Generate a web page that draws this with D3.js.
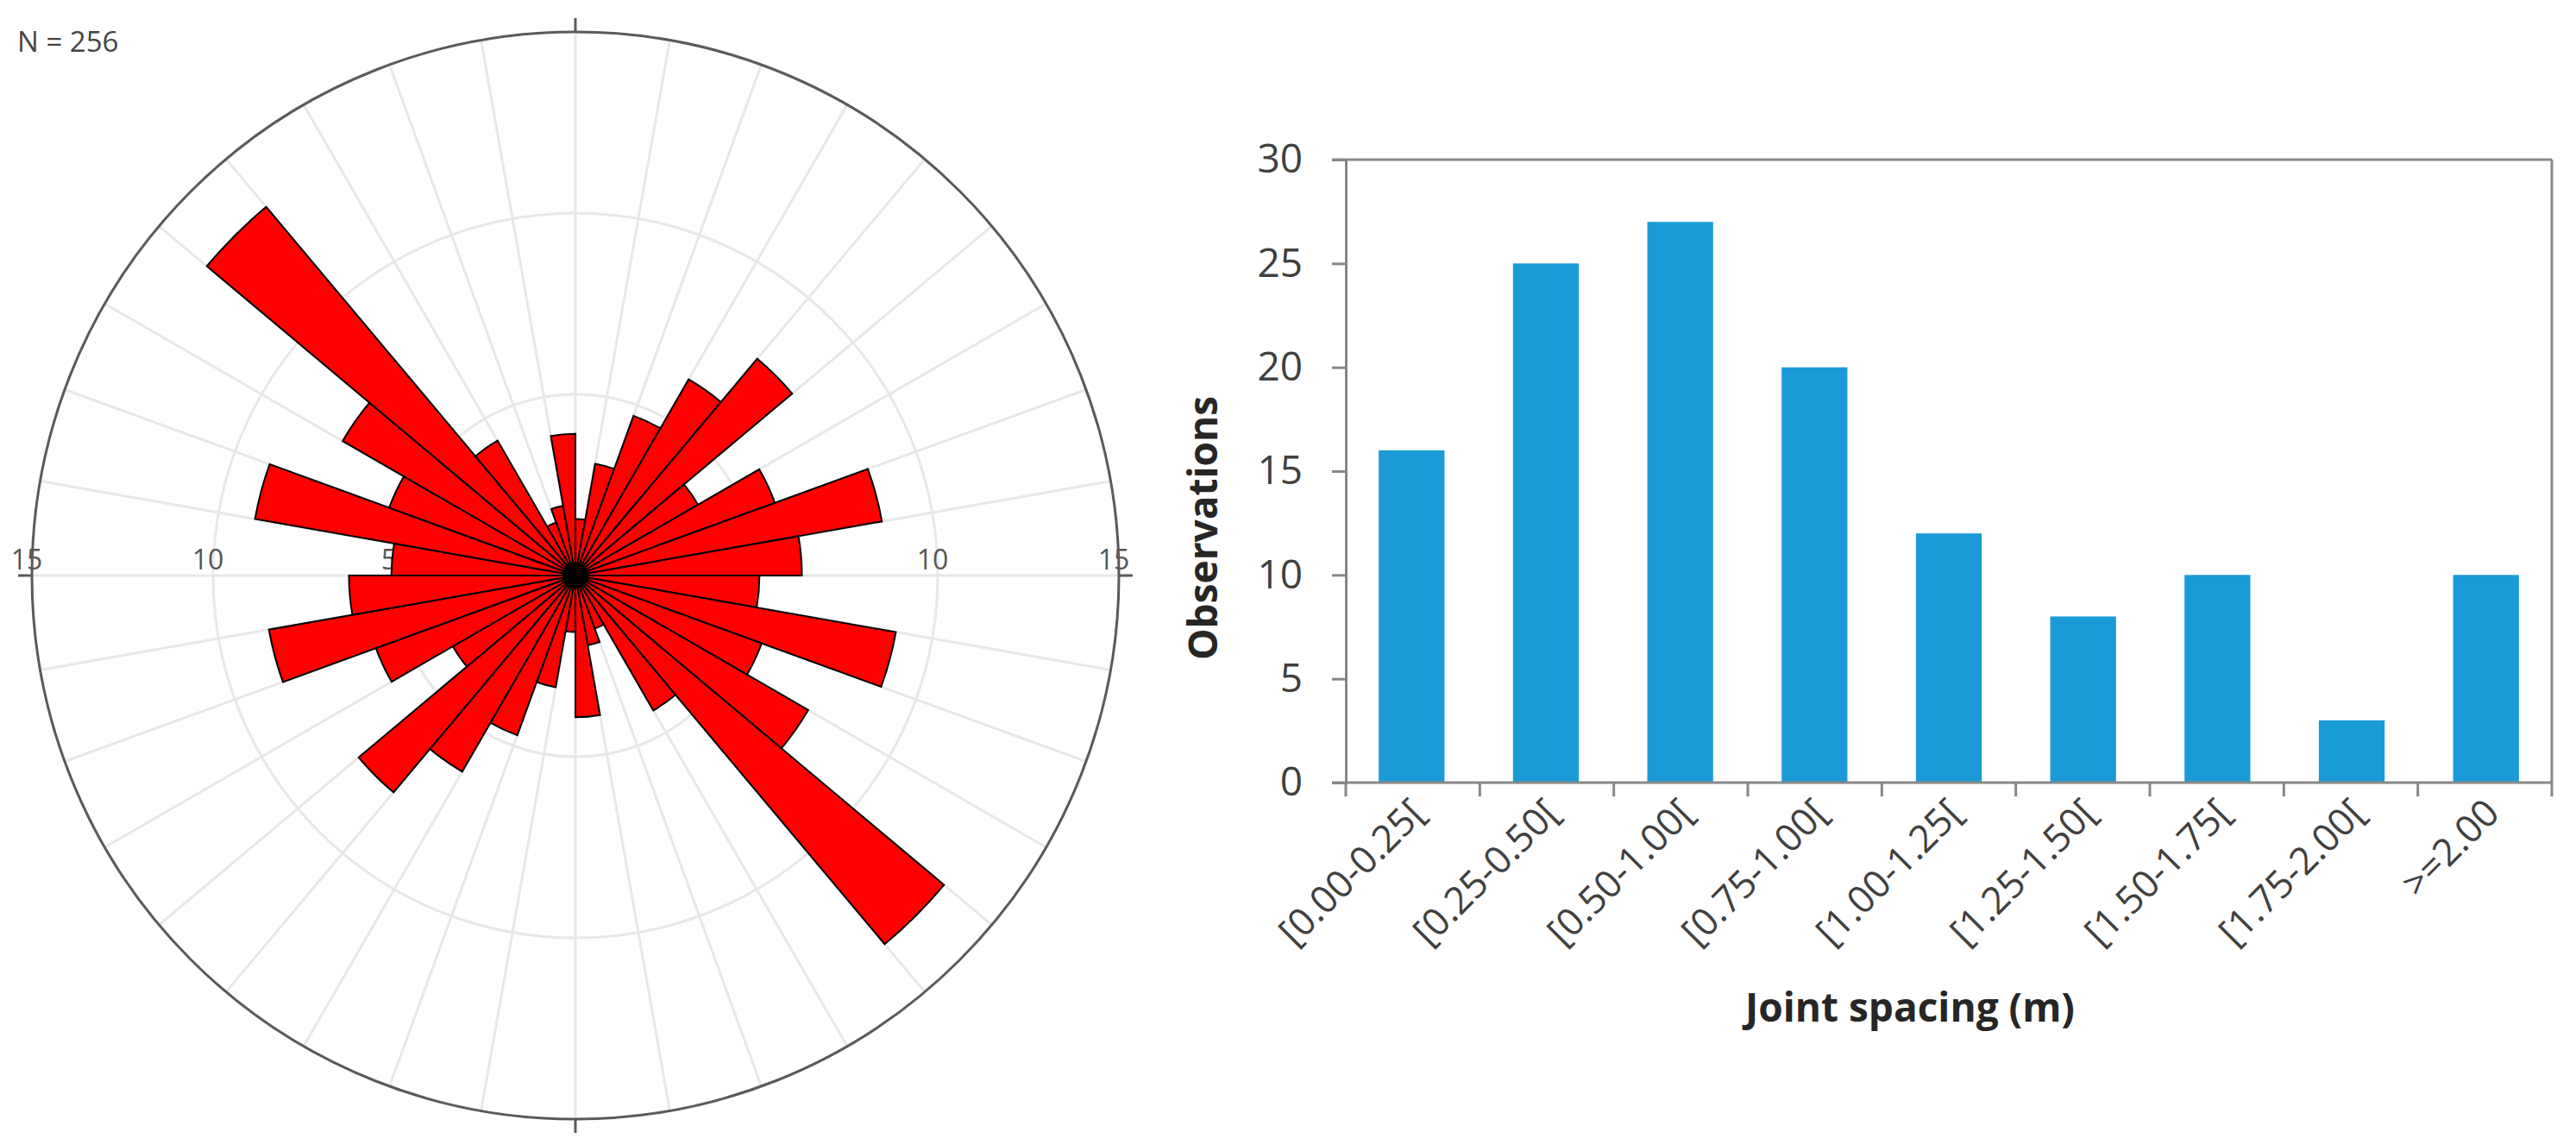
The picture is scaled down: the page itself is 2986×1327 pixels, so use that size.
<!DOCTYPE html>
<html>
<head>
<meta charset="utf-8">
<script src="https://cdn.jsdelivr.net/npm/d3@7"></script>
<style>
  body { margin: 0; background: #fff; }
  svg { display: block; }
</style>
</head>
<body>
<div id="chart"></div>
<script>

// rose diagram data: 10 degree bins from 0 to 170 (mirrored to 180-350), percent of N
var N = 256;
var binStarts = [0, 10, 20, 30, 40, 50, 60, 70, 80, 90, 100, 110, 120, 130, 140, 150, 160, 170];
var binPercent = [1.56, 3.13, 4.69, 6.25, 7.81, 3.91, 5.86, 8.59, 6.25, 5.08, 8.98, 5.47, 7.42, 13.28, 4.30, 1.56, 1.95, 3.91];
var ringTicks = [5, 10, 15];

// histogram data
var spacingLabels = ["[0.00-0.25[", "[0.25-0.50[", "[0.50-1.00[", "[0.75-1.00[", "[1.00-1.25[",
                     "[1.25-1.50[", "[1.50-1.75[", "[1.75-2.00[", ">=2.00"];
var observations = [16, 25, 27, 20, 12, 8, 10, 3, 10];
var yTicks = [0, 5, 10, 15, 20, 25, 30];

var W = 2986, H = 1327;

var svg = d3.select("#chart")
  .append("svg")
    .attr("width", W)
    .attr("height", H)
    .style("font-family", "'Open Sans', sans-serif");

svg.append("rect").attr("width", W).attr("height", H).attr("fill", "#fff");

// ---------------- rose diagram ----------------
var cx = 667, cy = 667;
var r = d3.scaleLinear().domain([0, 15]).range([0, 630]);
var rose = svg.append("g").attr("transform", "translate(" + cx + "," + cy + ")");

// spokes every 10 degrees
rose.append("g")
  .selectAll("line")
  .data(d3.range(0, 360, 10))
  .enter()
  .append("line")
    .attr("x1", 0).attr("y1", 0)
    .attr("x2", function(d) { return r(15) * Math.sin(d * Math.PI / 180); })
    .attr("y2", function(d) { return -r(15) * Math.cos(d * Math.PI / 180); })
    .attr("stroke", "#e8e8e8")
    .attr("stroke-width", 3);

// inner rings
rose.append("g")
  .selectAll("circle")
  .data([5, 10])
  .enter()
  .append("circle")
    .attr("r", function(d) { return r(d); })
    .attr("fill", "none")
    .attr("stroke", "#e8e8e8")
    .attr("stroke-width", 3);

// ring labels on both sides
var ringLab = [];
ringTicks.forEach(function(v) { ringLab.push({v: v, side: -1}); ringLab.push({v: v, side: 1}); });
rose.append("g")
  .selectAll("text")
  .data(ringLab)
  .enter()
  .append("text")
    .attr("x", function(d) { return d.side * r(d.v) - 6; })
    .attr("y", -7)
    .attr("text-anchor", "middle")
    .style("font-size", "32px")
    .attr("fill", "#555")
    .text(function(d) { return d.v; });

// petals (bidirectional)
var petals = [];
binStarts.forEach(function(a, i) {
  petals.push({a: a, v: binPercent[i]});
  petals.push({a: a + 180, v: binPercent[i]});
});
var arc = d3.arc()
  .innerRadius(0)
  .outerRadius(function(d) { return r(d.v); })
  .startAngle(function(d) { return d.a * Math.PI / 180; })
  .endAngle(function(d) { return (d.a + 10) * Math.PI / 180; });

rose.append("g")
  .selectAll("path")
  .data(petals)
  .enter()
  .append("path")
    .attr("d", arc)
    .attr("fill", "#ff0000")
    .attr("stroke", "#000")
    .attr("stroke-width", 2)
    .attr("stroke-linejoin", "miter");

rose.append("circle").attr("r", 15).attr("fill", "#000");

// outer circle and ticks
rose.append("circle")
  .attr("r", r(15))
  .attr("fill", "none")
  .attr("stroke", "#5a5a5a")
  .attr("stroke-width", 3);

rose.append("g")
  .selectAll("line")
  .data([0, 90, 180, 270])
  .enter()
  .append("line")
    .attr("x1", function(d) { return r(15) * Math.sin(d * Math.PI / 180); })
    .attr("y1", function(d) { return -r(15) * Math.cos(d * Math.PI / 180); })
    .attr("x2", function(d) { return (r(15) + 16) * Math.sin(d * Math.PI / 180); })
    .attr("y2", function(d) { return -(r(15) + 16) * Math.cos(d * Math.PI / 180); })
    .attr("stroke", "#5a5a5a")
    .attr("stroke-width", 3);

svg.append("text")
  .attr("x", 20)
  .attr("y", 60)
  .style("font-size", "33px")
  .attr("fill", "#444")
  .text("N = " + N);

// ---------------- histogram ----------------
var plotLeft = 1560, plotRight = 2958, plotTop = 185, plotBottom = 907;
var axisColor = "#878787";

var x = d3.scaleBand()
  .domain(spacingLabels)
  .range([plotLeft, plotRight])
  .paddingInner(0.51)
  .paddingOuter(0.245);

var y = d3.scaleLinear()
  .domain([0, 30])
  .range([plotBottom, plotTop]);

var hist = svg.append("g");

// bars
hist.append("g")
  .selectAll("rect")
  .data(observations)
  .enter()
  .append("rect")
    .attr("x", function(d, i) { return x(spacingLabels[i]); })
    .attr("y", function(d) { return y(d); })
    .attr("width", x.bandwidth())
    .attr("height", function(d) { return y(0) - y(d); })
    .attr("fill", "#1a9bd7");

// frame: top and right
hist.append("line")
  .attr("x1", plotLeft - 16).attr("x2", plotRight)
  .attr("y1", y(30)).attr("y2", y(30))
  .attr("stroke", axisColor).attr("stroke-width", 3);
hist.append("line")
  .attr("x1", plotRight).attr("x2", plotRight)
  .attr("y1", y(30)).attr("y2", y(0))
  .attr("stroke", axisColor).attr("stroke-width", 3);

// y axis
var yAxis = hist.append("g")
  .attr("transform", "translate(" + plotLeft + ",0)")
  .call(d3.axisLeft(y).tickValues(yTicks).tickSize(16).tickPadding(34));
yAxis.select(".domain").attr("stroke", axisColor).attr("stroke-width", 3);
yAxis.selectAll(".tick line").attr("stroke", axisColor).attr("stroke-width", 3);
yAxis.selectAll(".tick text")
  .style("font-size", "46px")
  .style("font-family", "'Open Sans', sans-serif")
  .attr("fill", "#404040");

// x axis line and boundary ticks
var step = (plotRight - plotLeft) / spacingLabels.length;
hist.append("line")
  .attr("x1", plotLeft - 16).attr("x2", plotRight)
  .attr("y1", y(0)).attr("y2", y(0))
  .attr("stroke", axisColor).attr("stroke-width", 3);
hist.append("g")
  .selectAll("line")
  .data(d3.range(spacingLabels.length + 1))
  .enter()
  .append("line")
    .attr("x1", function(i) { return plotLeft + i * step; })
    .attr("x2", function(i) { return plotLeft + i * step; })
    .attr("y1", y(0))
    .attr("y2", y(0) + 16)
    .attr("stroke", axisColor)
    .attr("stroke-width", 3);

// rotated category labels
hist.append("g")
  .selectAll("text")
  .data(spacingLabels)
  .enter()
  .append("text")
    .attr("transform", function(d) {
      return "translate(" + (x(d) + x.bandwidth() / 2 + 7) + "," + (y(0) + 27) + ") rotate(-45)";
    })
    .attr("text-anchor", "end")
    .attr("dy", "0.35em")
    .style("font-size", "44px")
    .attr("fill", "#404040")
    .text(function(d) { return d; });

// axis titles
hist.append("text")
  .attr("x", 2214)
  .attr("y", 1184)
  .attr("text-anchor", "middle")
  .style("font-size", "46px")
  .style("font-weight", "bold")
  .attr("fill", "#262626")
  .text("Joint spacing (m)");

hist.append("text")
  .attr("transform", "translate(1411,612) rotate(-90)")
  .attr("text-anchor", "middle")
  .style("font-size", "46px")
  .style("font-weight", "bold")
  .attr("fill", "#262626")
  .text("Observations");

</script>
</body>
</html>
